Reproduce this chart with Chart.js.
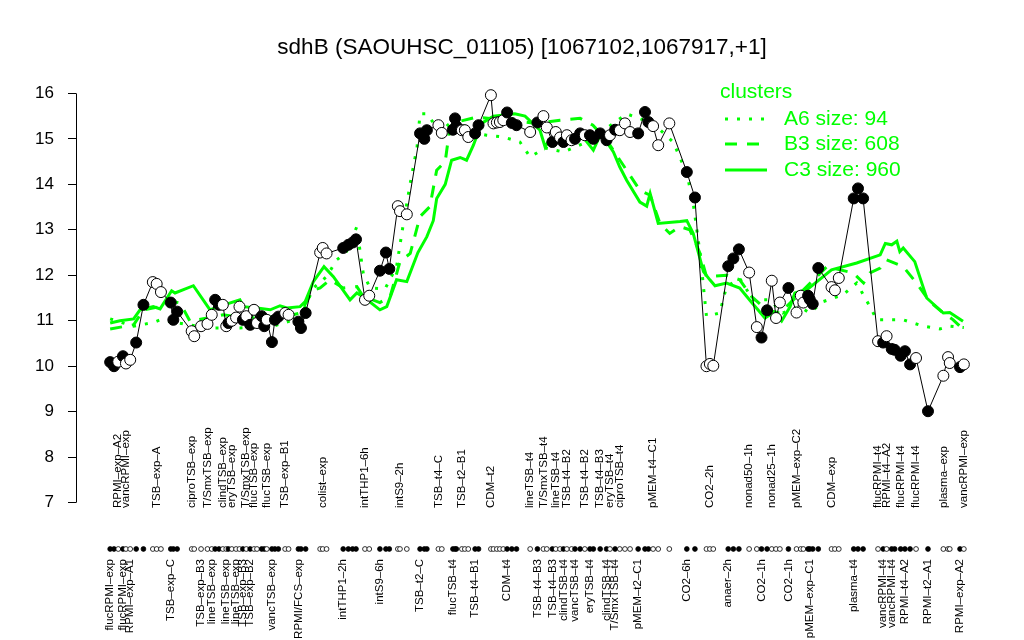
<!DOCTYPE html>
<html><head><meta charset="utf-8">
<script src="https://cdn.jsdelivr.net/npm/chart.js@4/dist/chart.umd.min.js"></script>
<style>html,body{margin:0;padding:0;background:#fff}canvas{display:block}</style>
</head><body>
<canvas id="c" width="1024" height="640"></canvas>
<script>
const FONT = '"Liberation Sans", Arial, Helvetica, sans-serif';
const GREEN = '#00ff00';
const titleText = 'sdhB (SAOUHSC_01105) [1067102,1067917,+1]';
const legendTitle = 'clusters';
const clusterNames = ['A6 size: 94', 'B3 size: 608', 'C3 size: 960'];
const yTicks = [7, 8, 9, 10, 11, 12, 13, 14, 15, 16];

// sample order positions (x) and expression (y)
const sampleX = [1.0,1.9,2.9,4.0,4.7,5.7,7.1,8.8,11.0,11.9,12.9,15.2,15.8,16.7,20.1,20.7,22.3,23.8,24.8,25.6,
26.5,27.4,28.2,28.7,29.5,30.5,31.3,32.1,32.9,33.8,34.7,35.4,36.5,37.1,37.7,38.9,39.6,40.4,42.0,42.8,
45.1,45.7,46.8,50.2,50.8,51.7,55.6,56.8,57.8,58.6,60.7,61.7,64.2,65.6,66.4,68.4,68.9,70.5,73.6,74.6,
75.2,77.9,78.7,81.3,81.8,82.1,83.4,84.1,84.9,86.5,87.3,90.2,90.8,91.6,92.3,93.1,94.0,95.1,96.2,99.4,
101.1,102.5,103.3,104.6,105.4,106.4,107.2,108.0,109.1,109.9,111.1,112.2,113.4,114.2,115.8,117.3,118.1,119.3,120.4,121.6,
122.8,124.7,126.3,127.1,128.2,129.4,132.0,136.1,138.0,140.7,141.5,142.3,145.8,147.0,148.3,150.7,152.5,153.6,154.9,156.0,
157.0,157.9,159.9,161.8,162.8,163.4,164.5,164.9,165.6,166.9,170.0,170.8,171.7,175.2,176.2,177.4,180.9,182.1,182.9,184.1,
184.8,186.2,187.2,188.4,189.8,192.6,196.2,197.3,197.7,200.1,201.0];
const sampleExpr = [10.09,10.00,10.10,10.22,10.06,10.14,10.52,11.35,11.85,11.81,11.63,11.40,11.02,11.20,10.77,10.66,10.88,10.93,11.13,11.46,
11.35,11.35,10.88,10.95,11.00,11.07,11.31,11.02,11.10,10.91,11.24,10.95,11.10,10.88,11.02,10.53,11.02,11.09,11.17,11.13,
10.98,10.84,11.17,12.50,12.60,12.48,12.60,12.67,12.72,12.79,11.46,11.55,12.10,12.50,12.14,13.52,13.41,13.34,15.12,15.00,
15.19,15.30,15.13,15.20,15.45,15.28,15.19,15.19,15.04,15.12,15.30,15.96,15.34,15.36,15.37,15.41,15.58,15.35,15.30,15.15,
15.36,15.50,15.25,14.93,15.15,15.03,14.93,15.08,14.97,15.00,15.12,15.08,15.08,15.00,15.12,14.97,15.08,15.20,15.19,15.34,
15.15,15.12,15.59,15.37,15.28,14.86,15.34,14.27,13.71,10.00,10.05,10.01,12.20,12.37,12.57,12.06,10.86,10.63,11.23,11.88,
11.06,11.40,11.72,11.18,11.55,11.40,11.55,11.47,11.37,12.16,11.74,11.67,11.94,13.69,13.91,13.69,10.55,10.52,10.66,10.38,
10.36,10.23,10.33,10.04,10.18,9.01,9.79,10.20,10.07,9.98,10.04];
const sampleFilled = [1,1,0,1,0,0,1,1,0,0,0,1,1,1,0,0,0,0,0,1,
1,0,0,1,0,0,0,1,0,1,0,0,1,1,0,1,1,1,0,0,
1,1,1,0,0,0,1,1,1,1,0,0,1,1,1,0,0,0,1,1,
1,0,0,1,1,1,0,0,0,1,1,0,0,0,0,0,1,1,1,0,
1,0,0,1,0,0,1,0,0,1,1,0,1,1,1,1,0,1,0,0,
0,1,1,1,0,0,0,1,1,0,0,0,1,1,1,0,0,1,1,0,
0,0,1,0,0,0,1,1,1,1,0,0,0,1,1,1,0,1,0,1,
1,1,1,1,0,1,0,0,0,1,0];

// tick labels (1-based sample index)
const topTickIdx = [3,5,10,15,18,22,25,29,31,35,39,45,51,57,62,67,72,80,82,85,88,92,95,97,99,105,111,116,120,124,131,137,139,142,145,147,151];
const topTickText = ['RPMI\u2013exp\u2013A2','vancRPMI\u2013exp','TSB\u2013exp\u2013A','ciproTSB\u2013exp','T/SmxTSB\u2013exp','clindTSB\u2013exp','eryTSB\u2013exp','T/SmxTSB\u2013exp','flucTSB\u2013exp','flucTSB\u2013exp','TSB\u2013exp\u2013B1','colist\u2013exp','intTHP1\u20136h','intS9\u20132h','TSB\u2013t4\u2013C','TSB\u2013t2\u2013B1','CDM\u2013t2','lineTSB\u2013t4','T/SmxTSB\u2013t4','lineTSB\u2013t4','TSB\u2013t4\u2013B2','TSB\u2013t4\u2013B2','TSB\u2013t4\u2013B3','eryTSB\u2013t4','ciproTSB\u2013t4','pMEM\u2013t4\u2013C1','CO2\u20132h','nonad50\u20131h','nonad25\u20131h','pMEM\u2013exp\u2013C2','CDM\u2013exp','flucRPMI\u2013t4','RPMI\u2013t4\u2013A2','flucRPMI\u2013t4','flucRPMI\u2013t4','plasma\u2013exp','vancRPMI\u2013exp'];
const bottomTickIdx = [1,4,6,12,17,19,23,26,28,30,36,41,47,53,59,64,70,77,81,84,87,90,93,96,98,102,108,113,118,123,128,134,138,140,143,146,150];
const bottomTickText = ['flucRPMI\u2013exp','flucRPMI\u2013exp','RPMI\u2013exp\u2013A1','TSB\u2013exp\u2013C','TSB\u2013exp\u2013B3','lineTSB\u2013exp','lineTSB\u2013exp','lineTSB\u2013exp','TSB\u2013exp\u2013B3','TSB\u2013exp\u2013B2','vancTSB\u2013exp','RPMI/FCS\u2013exp','intTHP1\u20132h','intS9\u20136h','TSB\u2013t2\u2013C','flucTSB\u2013t4','TSB\u2013t4\u2013B1','CDM\u2013t4','TSB\u2013t4\u2013B3','TSB\u2013t4\u2013B3','clindTSB\u2013t4','vancTSB\u2013t4','eryTSB\u2013t4','clindTSB\u2013t4','T/SmxTSB\u2013t4','pMEM\u2013t2\u2013C1','CO2\u20136h','anaer\u20132h','CO2\u20131h','CO2\u20131h','pMEM\u2013exp\u2013C1','plasma\u2013t4','vancRPMI\u2013t4','vancRPMI\u2013t4','RPMI\u2013t4\u2013A2','RPMI\u2013t2\u2013A1','RPMI\u2013exp\u2013A2'];

// cluster mean profiles (vertices)
const a6X = [1.0,6.5,11.1,12.7,21.3,24.4,31.4,39.2,45.5,48.6,51.7,54.1,56.3,58.8,59.5,60.3,61.9,65.4,68.1,69.7,71.3,72.9,73.6,75.2,78.3,82.2,85.3,89.2,93.1,97.0,99.4,102.9,107.2,112.6,118.9,122.0,128.2,132.9,136.1,137.6,139.2,140.7,143.8,145.4,148.5,151.6,155.5,158.6,162.5,164.9,168.0,172.7,175.9,179.0,180.6,186.8,191.5,195.4,197.7,201.0];
const a6Y = [11.04,10.88,10.96,11.02,10.88,10.84,10.84,10.88,11.06,11.72,11.97,12.34,12.5,13.07,12.56,12.04,11.72,11.70,12.19,13.14,14.02,14.82,15.55,15.55,15.15,15.48,15.15,15.08,15.04,14.93,14.6,14.8,14.71,14.93,15.34,15.55,15.34,14.93,14.24,13.58,12.48,11.1,11.17,11.75,11.93,11.46,11.46,11.17,11.31,11.17,11.42,11.57,11.83,11.31,11.02,11.02,10.88,10.82,10.88,10.85];
const b3X = [1.0,6.5,8.8,12.7,15.8,17.4,19.7,27.5,33.0,42.4,45.5,48.6,50.2,52.5,55.6,58.8,60.3,64.2,66.6,68.9,71.3,73.6,75.9,77.5,79.5,80.6,82.2,86.9,100.9,106.4,111.1,114.1,117.3,122.0,125.1,127.5,129.8,132.1,134.5,136.8,139.2,140.7,145.4,148.5,151.3,154.8,157.9,161.8,164.2,168.9,175.1,177.5,179.0,181.4,182.9,186.8,189.9,193.0,196.2,198.5,200.5,201.0];
const b3Y = [10.82,10.91,11.24,11.31,11.42,11.39,10.99,11.13,11.06,11.1,11.17,11.68,11.72,11.9,11.72,11.75,11.53,11.4,11.53,12.3,12.48,13.29,13.51,14.31,14.5,15.26,15.37,15.48,15.34,15.41,15.45,15.3,14.97,14.31,13.87,13.76,13.14,12.92,13.07,13.0,12.48,11.97,12.0,11.9,11.53,11.24,11.17,11.53,11.75,12.19,12.05,11.83,12.05,12.16,12.34,12.19,11.83,11.42,11.17,11.02,10.84,10.9];
const c3X = [1.0,3.3,6.5,8.0,11.1,12.7,15.4,16.2,20.5,24.4,26.4,31.4,32.2,35.4,38.5,40.8,42.4,45.5,46.7,48.6,51.1,53.3,57.2,58.8,60.7,64.2,65.8,68.1,70.5,73.1,75.2,76.7,77.5,79.5,81.0,83.0,84.5,86.1,88.0,90.8,95.8,98.2,101.7,102.9,104.0,106.4,111.1,114.2,115.8,117.2,118.9,120.4,122.0,125.1,126.7,127.5,129.4,134.5,136.1,137.6,140.0,141.5,142.7,145.4,148.5,151.3,154.4,156.3,158.3,160.3,161.4,164.2,170.0,175.9,181.4,182.6,184.1,185.3,186.0,186.8,189.5,192.3,196.2,197.7,200.8];
const c3Y = [10.95,11.0,11.04,11.24,11.31,11.26,11.66,11.61,11.77,11.24,11.31,11.46,11.31,11.28,11.24,11.33,11.28,11.31,11.42,11.86,12.19,11.97,11.46,11.61,11.5,11.24,11.31,11.9,11.86,12.5,12.85,13.2,13.69,14.0,14.53,14.59,14.53,14.86,15.34,15.5,15.55,15.5,15.19,14.82,15.0,14.97,15.12,14.75,15.08,14.95,14.71,14.38,14.09,13.61,13.52,13.8,13.14,13.18,13.2,12.92,12.08,11.9,11.77,11.83,11.72,11.4,11.06,11.17,10.99,11.31,11.61,11.68,12.12,12.27,12.45,12.7,12.67,12.75,12.52,12.6,12.3,11.5,11.17,11.18,10.99];

const toXY = (xa, ya) => xa.map((x, i) => ({x: x, y: ya[i]}));

const deco = {
  id: 'deco',
  afterDraw(chart) {
    const ctx = chart.ctx, xs = chart.scales.x, ys = chart.scales.y, ca = chart.chartArea;
    ctx.save();
    // y axis line
    ctx.strokeStyle = '#000'; ctx.lineWidth = 1;
    const ax = Math.round(ca.left) + 0.5;
    ctx.beginPath();
    ctx.moveTo(ax, ys.getPixelForValue(yTicks[0]));
    ctx.lineTo(ax, ys.getPixelForValue(yTicks[yTicks.length - 1]));
    ctx.stroke();
    // title
    ctx.fillStyle = '#000';
    ctx.font = '22.5px ' + FONT;
    ctx.textAlign = 'center'; ctx.textBaseline = 'middle';
    ctx.fillText(titleText, 522, 48);
    // x tick labels
    ctx.font = '11.5px ' + FONT;
    ctx.textBaseline = 'middle';
    topTickIdx.forEach((idx, k) => {
      const px = xs.getPixelForValue(sampleX[idx - 1]);
      ctx.save(); ctx.translate(px, 508); ctx.rotate(-Math.PI / 2);
      ctx.textAlign = 'left'; ctx.fillText(topTickText[k], 0, 0); ctx.restore();
    });
    bottomTickIdx.forEach((idx, k) => {
      const px = xs.getPixelForValue(sampleX[idx - 1]);
      ctx.save(); ctx.translate(px, 559); ctx.rotate(-Math.PI / 2);
      ctx.textAlign = 'right'; ctx.fillText(bottomTickText[k], 0, 0); ctx.restore();
    });
    // sample marker row
    ctx.lineWidth = 0.8;
    sampleX.forEach((x, i) => {
      const px = xs.getPixelForValue(x);
      ctx.beginPath(); ctx.arc(px, 549, 2.4, 0, Math.PI * 2);
      ctx.fillStyle = sampleFilled[i] ? '#000' : '#fff';
      ctx.fill(); ctx.strokeStyle = '#000'; ctx.stroke();
    });
    // legend
    ctx.fillStyle = GREEN;
    ctx.font = '21px ' + FONT;
    ctx.textAlign = 'left'; ctx.textBaseline = 'middle';
    ctx.fillText(legendTitle, 720, 92);
    const dashes = [[3, 9], [12, 10], []];
    const ly = [119, 144, 170];
    clusterNames.forEach((name, k) => {
      ctx.strokeStyle = GREEN; ctx.lineWidth = 3; ctx.setLineDash(dashes[k]);
      ctx.beginPath(); ctx.moveTo(725, ly[k]); ctx.lineTo(767, ly[k]); ctx.stroke();
      ctx.setLineDash([]);
      ctx.fillText(name, 784, ly[k]);
    });
    ctx.restore();
  }
};

new Chart(document.getElementById('c'), {
  type: 'line',
  data: {
    datasets: [
      { label: 'sdhB', data: toXY(sampleX, sampleExpr), order: 0,
        borderColor: '#000', borderWidth: 1, tension: 0,
        pointRadius: 5.5, pointBorderWidth: 1, pointBorderColor: '#000',
        pointBackgroundColor: sampleFilled.map(f => f ? '#000' : '#fff') },
      { label: 'A6', data: toXY(a6X, a6Y), order: 1, borderColor: GREEN, borderWidth: 3,
        borderDash: [3, 9], pointRadius: 0, tension: 0 },
      { label: 'B3', data: toXY(b3X, b3Y), order: 1, borderColor: GREEN, borderWidth: 3,
        borderDash: [12, 10], pointRadius: 0, tension: 0 },
      { label: 'C3', data: toXY(c3X, c3Y), order: 1, borderColor: GREEN, borderWidth: 3,
        pointRadius: 0, tension: 0 }
    ]
  },
  options: {
    responsive: false, animation: false, devicePixelRatio: 1, events: [],
    layout: { padding: { left: 0, right: 26, top: 77, bottom: 121 } },
    plugins: { legend: { display: false }, tooltip: { enabled: false }, title: { display: false } },
    scales: {
      x: { type: 'linear', min: -7, max: 209, display: false },
      y: { type: 'linear', min: 6.64, max: 16.36,
        afterFit: s => { s.width = 76; },
        afterBuildTicks: a => { a.ticks = yTicks.map(v => ({ value: v })); },
        border: { display: false },
        grid: { drawOnChartArea: false, drawTicks: true, tickLength: 8, color: '#000', lineWidth: 1 },
        ticks: { color: '#000', font: { family: FONT, size: 17 }, padding: 14, callback: v => String(v) }
      }
    }
  },
  plugins: [deco]
});
</script>
</body></html>
